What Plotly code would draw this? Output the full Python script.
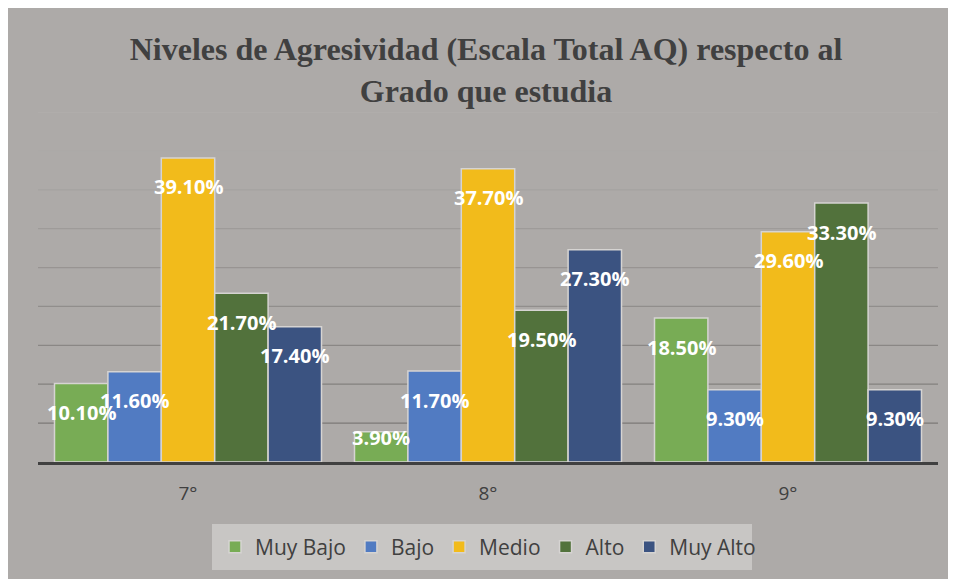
import plotly.graph_objects as go

grados = ["7°", "8°", "9°"]
niveles = ["Muy Bajo", "Bajo", "Medio", "Alto", "Muy Alto"]
muy_bajo = [10.1, 3.9, 18.5]
bajo = [11.6, 11.7, 9.3]
medio = [39.1, 37.7, 29.6]
alto = [21.7, 19.5, 33.3]
muy_alto = [17.4, 27.3, 9.3]
series = [muy_bajo, bajo, medio, alto, muy_alto]
colores = ["#78AC55", "#517BC2", "#F2BB1B", "#52723C", "#3B5381"]

W, H = 956, 579
ml, mr, mt, mb = 30, 26, 104, 125
pw, ph = W - ml - mr, H - mt - mb
ymax = 45
bargap = 0.11
px_per = ph / ymax
bar_px = pw / len(grados) * (1 - bargap) / len(niveles)

fondo = "#ADAAA8"

fig = go.Figure()
for i, (nombre, vals) in enumerate(zip(niveles, series)):
    fig.add_trace(go.Bar(
        x=grados, y=vals, name=nombre,
        marker=dict(color=colores[i], line=dict(color="#D6D4D2", width=1.5)),
    ))
    # etiquetas de datos tipo Excel (dentro, cerca del extremo)
    for j, v in enumerate(vals):
        fig.add_annotation(
            x=grados[j], y=v, text=f"{v:.2f}%", showarrow=False,
            xshift=(i - 2) * bar_px, yshift=-min(29, v * px_per - 25),
            font=dict(family="Open Sans", size=20, color="white", weight="bold"),
        )

# lineas de division con degradado (claras arriba, oscuras abajo)
niveles_grid = list(range(5, ymax + 1, 5))
for k, g in enumerate(niveles_grid):
    t = k / (len(niveles_grid) - 1)
    c = [int(round(a + (b - a) * t)) for a, b in zip((0x7C, 0x79, 0x77), (0xB3, 0xB0, 0xAE))]
    fig.add_shape(type="line", xref="paper", yref="y", layer="below",
                  x0=0, x1=1, y0=g, y1=g,
                  line=dict(color=f"rgb({c[0]},{c[1]},{c[2]})", width=1.2))

# caja de la leyenda
fig.add_shape(type="rect", xref="paper", yref="paper", layer="below",
              x0=(204 - ml) / pw, x1=(744 - ml) / pw,
              y0=(H - mb - 516) / ph, y1=(H - mb - 562) / ph,
              fillcolor="#C8C6C4", line=dict(width=0))

fig.update_layout(
    width=W, height=H, autosize=False,
    margin=dict(l=ml, r=mr, t=mt, b=mb),
    paper_bgcolor=fondo, plot_bgcolor=fondo,
    barmode="group", bargap=bargap, bargroupgap=0,
    title=dict(
        text="Niveles de Agresividad (Escala Total AQ) respecto al<br>Grado que estudia",
        x=0.5, xanchor="center", y=1 - 52 / H, yanchor="top",
        font=dict(family="Liberation Serif", size=32, color="#404040", weight="bold"),
    ),
    legend=dict(
        orientation="h", x=(480 - ml) / pw, xanchor="center",
        y=(H - mb - 539) / ph, yanchor="middle",
        bgcolor="rgba(0,0,0,0)",
        font=dict(family="Open Sans", size=21, color="#404040"),
    ),
    showlegend=True,
)
fig.update_xaxes(
    showline=True, linecolor="#404040", linewidth=3,
    tickfont=dict(family="Open Sans", size=19, color="#404040"),
    ticklabelstandoff=12,
)
fig.update_yaxes(
    range=[0, ymax], dtick=5, showticklabels=False,
    showgrid=False, zeroline=False,
)

fig.write_html("out.html")
